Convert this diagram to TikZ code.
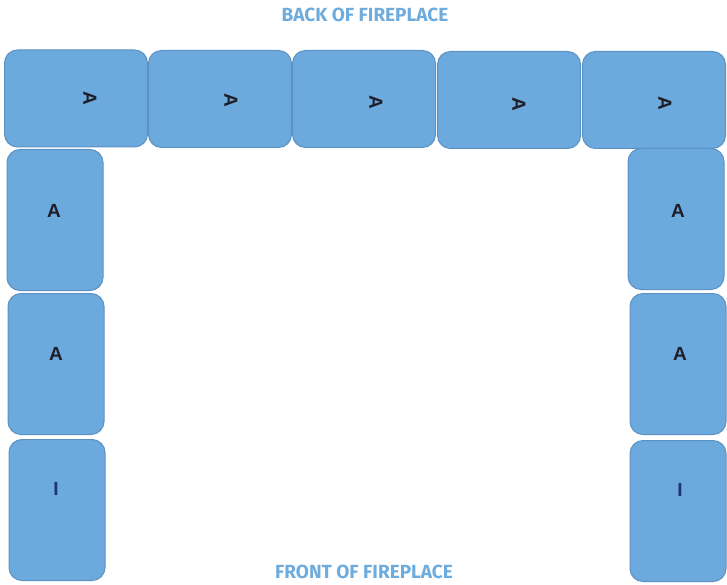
\documentclass[tikz,border=0pt]{standalone}
\usepackage{fontspec}
\setmainfont{Liberation Sans}
\newfontfamily\titlefont{Fira Sans}
\definecolor{brickfill}{RGB}{108,170,221}
\definecolor{brickline}{RGB}{90,146,196}
\definecolor{titleblue}{RGB}{110,172,222}
\definecolor{ink}{RGB}{30,30,40}
\definecolor{inkblue}{RGB}{30,50,120}

\begin{document}
\begin{tikzpicture}[x=1pt, y=-1pt,
  brick/.style={draw=brickline, fill=brickfill, line width=1pt,
    rounded corners=13pt, inner sep=0pt},
  wide/.style={brick, minimum width=143pt, minimum height=97pt},
  tall/.style={brick, minimum width=96pt, minimum height=141pt},
  letter/.style={font=\fontsize{19}{19}\selectfont\bfseries, text=ink},
  title/.style={font=\titlefont\bfseries\fontsize{19}{19}\selectfont,
    text=titleblue}]

  \useasboundingbox (0,0) rectangle (727,585);

  % back of the fireplace
  \node[title] (back) at (365,15) {BACK OF FIREPLACE};

  \node[wide] (back1) at (76,98.5) {};
  \node[wide] (back2) at (220,99) {};
  \node[wide] (back3) at (364,99) {};
  \node[wide] (back4) at (509,100) {};
  \node[wide] (back5) at (654,100) {};

  \node[letter, rotate=-90] (a1) at (90,98) {A};
  \node[letter, rotate=-90] (a2) at (231,100) {A};
  \node[letter, rotate=-90] (a3) at (376,102) {A};
  \node[letter, rotate=-90] (a4) at (519,104) {A};
  \node[letter, rotate=-90] (a5) at (665,103) {A};

  % left side
  \node[tall] (left1) at (55,220) {};
  \node[tall] (left2) at (56,364) {};
  \node[tall] (left3) at (57,510) {};

  \node[letter] (l1) at (54,211) {A};
  \node[letter] (l2) at (56,354) {A};
  \node[letter, text=inkblue] (l3) at (56,489) {I};

  % right side
  \node[tall] (right1) at (676,219) {};
  \node[tall] (right2) at (678,364) {};
  \node[tall] (right3) at (678,511) {};

  \node[letter] (r1) at (678,211) {A};
  \node[letter] (r2) at (680,354) {A};
  \node[letter, text=inkblue] (r3) at (680,490) {I};

  % front of the fireplace
  \node[title] (front) at (364,572) {FRONT OF FIREPLACE};
\end{tikzpicture}
\end{document}
